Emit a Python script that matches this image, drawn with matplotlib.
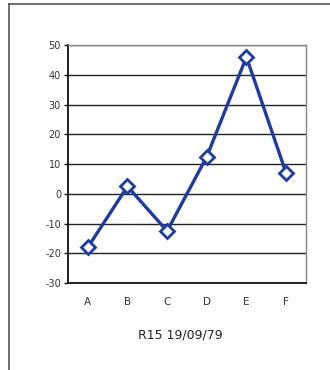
import matplotlib
matplotlib.use("Agg")
import matplotlib.pyplot as plt
from matplotlib.lines import Line2D

categories = ["A", "B", "C", "D", "E", "F"]
values = [-18, 2.5, -12.5, 12.5, 46, 7]
yticks = [-30, -20, -10, 0, 10, 20, 30, 40, 50]
title = "R15 19/09/79"

fig = plt.figure(figsize=(3.3, 3.7), dpi=100)
fig.patch.set_facecolor("white")

# outer frame (left + top only visible)
fig.add_artist(Line2D([0.026, 0.026], [0.0, 0.988], color="#555555", lw=1.2))
fig.add_artist(Line2D([0.026, 1.0], [0.988, 0.988], color="#555555", lw=1.2))

ax = fig.add_axes([0.206, 0.235, 0.721, 0.643])
x = list(range(len(categories)))
ax.plot(x, values, color="#1e3c9e", lw=2.4, marker="D", markersize=7,
        markerfacecolor="white", markeredgecolor="#1e3c9e", markeredgewidth=2, zorder=3)

ax.set_xlim(-0.5, len(categories) - 0.5)
ax.set_ylim(-30, 50)
ax.set_yticks(yticks)
ax.set_yticklabels([str(v) for v in yticks])
ax.set_xticks(x)
ax.set_xticklabels(categories)
ax.yaxis.grid(True, color="#222222", lw=1.0)
ax.set_axisbelow(True)

for s in ["left", "bottom"]:
    ax.spines[s].set_color("#111111")
    ax.spines[s].set_linewidth(1.3)
for s in ["top", "right"]:
    ax.spines[s].set_color("#888888")
    ax.spines[s].set_linewidth(1.0)

ax.tick_params(axis="y", length=3, width=1, color="#111111", labelsize=7, labelcolor="#333333", pad=2)
ax.tick_params(axis="x", length=0, labelsize=7.5, labelcolor="#333333", pad=10)

fig.text(0.545, 0.095, title, ha="center", va="center", fontsize=9, color="#222222")

fig.savefig("out.png", dpi=100)
